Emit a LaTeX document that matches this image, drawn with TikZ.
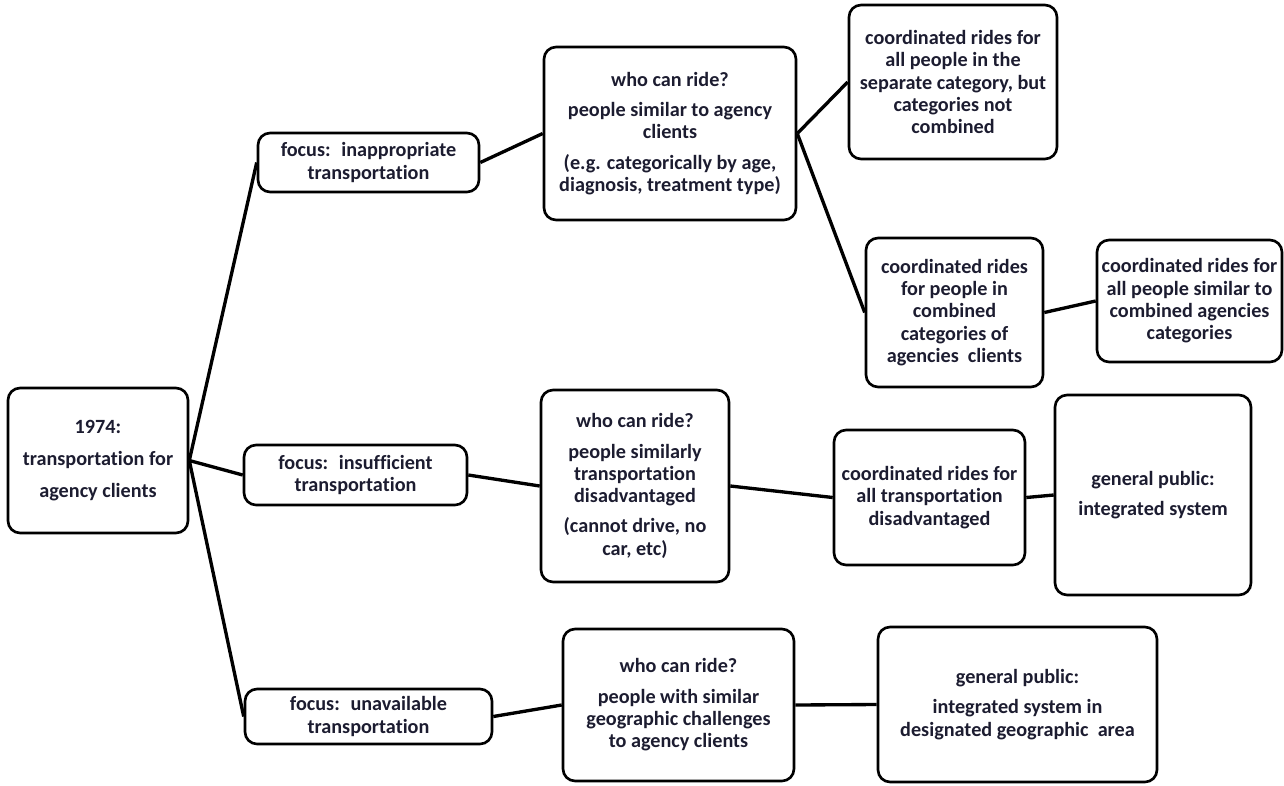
\documentclass[tikz,border=0pt]{standalone}
\usepackage{fontspec}
\setmainfont{Carlito}[Ligatures=NoCommon]
\usepackage[dvipsnames]{xcolor}
\definecolor{inkblue}{RGB}{28,28,48}

\begin{document}
\begin{tikzpicture}[x=0.02cm,y=-0.02cm,-,line width=1.9pt,
    box node/.style={draw,line width=1.5pt,rounded corners=0.24cm,align=center,inner sep=2pt,text=inkblue,font=\bfseries\fontsize{11.5}{12.7}\selectfont}]

            \useasboundingbox (0,0) rectangle (1284,785);

            \node[box node, minimum width=3.6cm, minimum height=2.9cm] (root) at (98,460.5) {1974:\\[5.5pt] transportation for\\[5.5pt] agency clients};

            \node[box node, minimum width=4.42cm, minimum height=1.18cm] (focusA) at (368.5,162.5) {focus:~ inappropriate\\ transportation};
            \node[box node, minimum width=4.46cm, minimum height=1.2cm] (focusB) at (355.5,475) {focus:~ insufficient\\ transportation};
            \node[box node, minimum width=4.94cm, minimum height=1.1cm] (focusC) at (368.5,716.5) {focus:~ unavailable\\ transportation};

            \node[box node, minimum width=5.04cm, minimum height=3.46cm] (whoA) at (670,133.5) {who can ride?\\[4.5pt] people similar to agency\\ clients\\[4.5pt] (e.g. categorically by age,\\ diagnosis, treatment type)};
            \node[box node, minimum width=3.76cm, minimum height=3.84cm] (whoB) at (635,486) {who can ride?\\[4.5pt] people similarly\\ transportation\\ disadvantaged\\[4.5pt] (cannot drive, no\\ car, etc)};
            \node[box node, minimum width=4.62cm, minimum height=3.04cm] (whoC) at (678.5,705) {who can ride?\\[4.5pt] people with similar\\ geographic challenges\\ to agency clients};

            \node[box node, minimum width=4.16cm, minimum height=3.08cm] (sepCat) at (953,82) {coordinated rides for\\ all people in the\\ separate category, but\\ categories not\\ combined};
            \node[box node, minimum width=3.54cm, minimum height=2.98cm] (combCat) at (954.5,312.5) {coordinated rides\\ for people in\\ combined\\ categories of\\ agencies~ clients};
            \node[box node, minimum width=3.7cm, minimum height=2.44cm] (combAll) at (1189.5,301) {coordinated rides for\\ all people similar to\\ combined agencies\\ categories};
            \node[box node, minimum width=3.82cm, minimum height=2.7cm] (coordTD) at (929.5,497.5) {coordinated rides for\\ all transportation\\ disadvantaged};
            \node[box node, minimum width=3.92cm, minimum height=4cm] (genPub) at (1153,495) {general public:\\[4.5pt] integrated system};
            \node[box node, minimum width=5.58cm, minimum height=3.1cm] (genArea) at (1017.5,704.5) {general public:\\[4.5pt] integrated system in\\ designated geographic~ area};

            \draw (root.east) to (focusA.west);
            \draw (root.east) to (focusB.west);
            \draw (root.east) to (focusC.west);
            \draw (focusA.east) to (whoA.west);
            \draw (focusB.east) to (whoB.west);
            \draw (focusC.east) to (whoC.west);
            \draw (whoA.east) to (sepCat.west);
            \draw (whoA.east) to (combCat.west);
            \draw (combCat.east) to (combAll.west);
            \draw (whoB.east) to (coordTD.west);
            \draw (coordTD.east) to (genPub.west);
            \draw (whoC.east) to (genArea.west);

        \end{tikzpicture}
\end{document}
